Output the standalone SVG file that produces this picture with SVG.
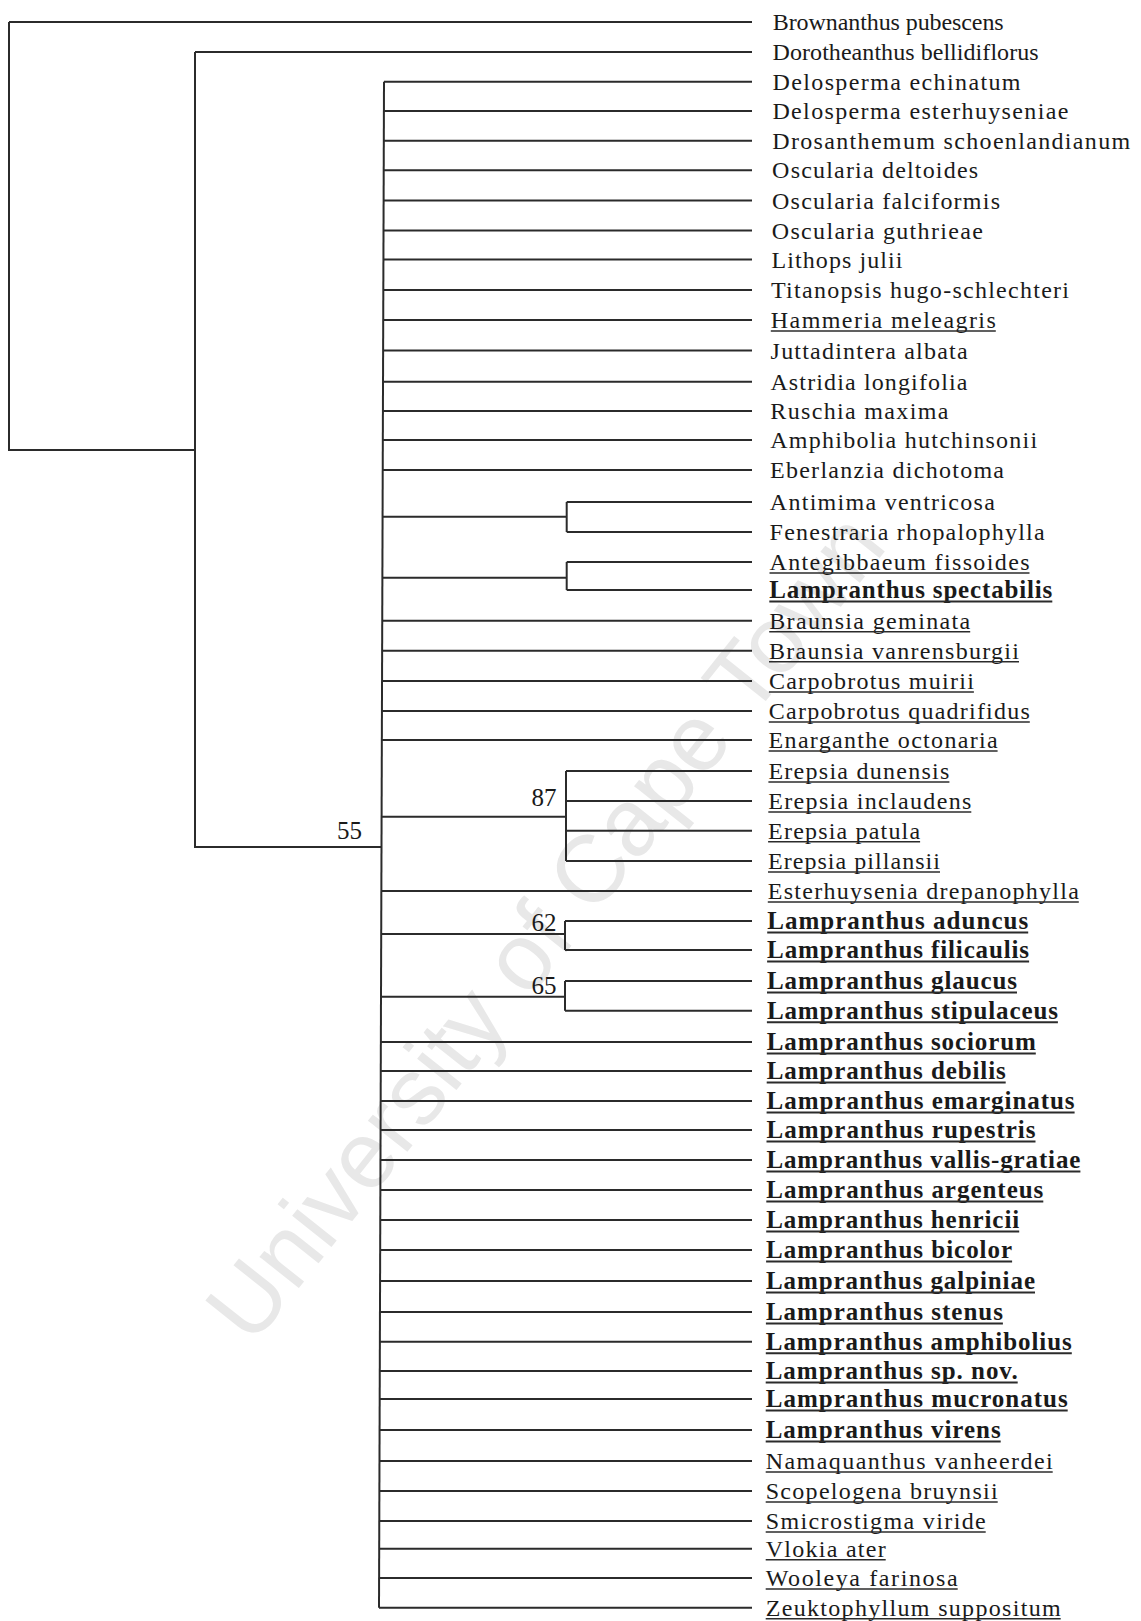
<svg xmlns="http://www.w3.org/2000/svg" width="1141" height="1621" viewBox="0 0 1141 1621">
<style>
.wm{font-family:"Liberation Sans",Arial,sans-serif;font-size:95px;fill:#e8e8e8}
.c path{fill:none;stroke:#2b2b2b;stroke-width:2}
.t{font-family:"Liberation Serif","Times New Roman",serif;font-size:24px;fill:#1a1a1a}
.b{font-weight:bold;font-size:25px}
.n{font-family:"Liberation Serif","Times New Roman",serif;font-size:25px;fill:#1a1a1a}
.ul{stroke:#2b2b2b;stroke-width:1.5}
.ub{stroke:#2b2b2b;stroke-width:2}
</style>
<rect width="1141" height="1621" fill="#fff"/>
<text class="wm" x="252" y="1347" transform="rotate(-51.5 252 1347)">University of Cape Town</text>
<g id="connectors" class="c">
<path d="M9,22 V450 H195 M9,22 H752"/>
<path d="M195,52 V847 H381.5 M195,52 H752"/>
<path d="M384,81.7 L379,1607.7"/>
<path d="M384,81.7 H752 M383.9,111 H752 M383.8,140.7 H752 M383.7,170.3 H752 M383.6,200.5 H752 M383.5,230.5 H752 M383.4,259.5 H752 M383.3,290 H752 M383.2,320 H752 M383.1,350.5 H752 M383,381.7 H752 M382.9,411 H752 M382.8,440 H752 M382.7,470 H752"/>
<path d="M382.6,516.7 H566.7 M566.7,502 V532 M566.7,502 H752 M566.7,532 H752"/>
<path d="M382.4,577.7 H566.7 M566.7,562 V590 M566.7,562 H752 M566.7,590 H752"/>
<path d="M382.2,620.7 H752 M382.1,650.7 H752 M382,681 H752 M381.9,711 H752 M381.8,740 H752"/>
<path d="M381.6,816.7 H566 M566,771 V861 M566,771 H752 M566,801 H752 M566,830.7 H752 M566,861 H752"/>
<path d="M381.3,891 H752"/>
<path d="M381.2,934 H565 M565,921 V950 M565,921 H752 M565,950 H752"/>
<path d="M381,996.7 H565 M565,981 V1010.7 M565,981 H752 M565,1010.7 H752"/>
<path d="M380.9,1042 H752 M380.8,1071 H752 M380.7,1101 H752 M380.6,1130 H752 M380.5,1160 H752 M380.4,1190 H752 M380.3,1220 H752 M380.2,1250 H752 M380.1,1281 H752 M380,1312 H752 M379.9,1341.7 H752 M379.8,1371 H752 M379.7,1399 H752 M379.6,1430 H752 M379.5,1461 H752 M379.4,1491 H752 M379.3,1521 H752 M379.2,1548.7 H752 M379.1,1578 H752 M379,1607.7 H752"/>
</g>
<g id="support-labels">
<g id="bs55"><text class="n" x="337" y="839">55</text></g>
<g id="bs87"><text class="n" x="531.5" y="805.5">87</text></g>
<g id="bs62"><text class="n" x="531.5" y="931">62</text></g>
<g id="bs65"><text class="n" x="531.5" y="994.3">65</text></g>
</g>
<g id="leaves">
<g id="l01"><text class="t" x="772.7" y="30" textLength="231" lengthAdjust="spacing">Brownanthus pubescens</text></g>
<g id="l02"><text class="t" x="772.6" y="60" textLength="266" lengthAdjust="spacing">Dorotheanthus bellidiflorus</text></g>
<g id="l03"><text class="t" x="772.5" y="89.7" textLength="248" lengthAdjust="spacing">Delosperma echinatum</text></g>
<g id="l04"><text class="t" x="772.4" y="119" textLength="296" lengthAdjust="spacing">Delosperma esterhuyseniae</text></g>
<g id="l05"><text class="t" x="772.2" y="148.7" textLength="358" lengthAdjust="spacing">Drosanthemum schoenlandianum</text></g>
<g id="l06"><text class="t" x="772.1" y="178.3" textLength="206" lengthAdjust="spacing">Oscularia deltoides</text></g>
<g id="l07"><text class="t" x="772" y="208.5" textLength="228" lengthAdjust="spacing">Oscularia falciformis</text></g>
<g id="l08"><text class="t" x="771.8" y="238.5" textLength="211" lengthAdjust="spacing">Oscularia guthrieae</text></g>
<g id="l09"><text class="t" x="771.5" y="267.5" textLength="131" lengthAdjust="spacing">Lithops julii</text></g>
<g id="l10"><text class="t" x="771" y="298" textLength="298" lengthAdjust="spacing">Titanopsis hugo-schlechteri</text></g>
<g id="l11"><text class="t" x="770.8" y="328" textLength="225" lengthAdjust="spacing">Hammeria meleagris</text><line class="ul" x1="770.8" y1="331" x2="995.8" y2="331"/></g>
<g id="l12"><text class="t" x="770.6" y="358.5" textLength="197" lengthAdjust="spacing">Juttadintera albata</text></g>
<g id="l13"><text class="t" x="770.4" y="389.7" textLength="197" lengthAdjust="spacing">Astridia longifolia</text></g>
<g id="l14"><text class="t" x="770.3" y="419" textLength="178" lengthAdjust="spacing">Ruschia maxima</text></g>
<g id="l15"><text class="t" x="770.2" y="448" textLength="267" lengthAdjust="spacing">Amphibolia hutchinsonii</text></g>
<g id="l16"><text class="t" x="770" y="478" textLength="234" lengthAdjust="spacing">Eberlanzia dichotoma</text></g>
<g id="l17"><text class="t" x="769.8" y="510" textLength="225" lengthAdjust="spacing">Antimima ventricosa</text></g>
<g id="l18"><text class="t" x="769.6" y="540" textLength="275" lengthAdjust="spacing">Fenestraria rhopalophylla</text></g>
<g id="l19"><text class="t" x="769.5" y="570" textLength="260" lengthAdjust="spacing">Antegibbaeum fissoides</text><line class="ul" x1="769.5" y1="573" x2="1029.5" y2="573"/></g>
<g id="l20"><text class="t b" x="769.3" y="598" textLength="283" lengthAdjust="spacing">Lampranthus spectabilis</text><line class="ub" x1="769.3" y1="601.5" x2="1052.3" y2="601.5"/></g>
<g id="l21"><text class="t" x="769.2" y="628.7" textLength="201" lengthAdjust="spacing">Braunsia geminata</text><line class="ul" x1="769.2" y1="631.7" x2="970.2" y2="631.7"/></g>
<g id="l22"><text class="t" x="769" y="658.7" textLength="250" lengthAdjust="spacing">Braunsia vanrensburgii</text><line class="ul" x1="769" y1="661.7" x2="1019" y2="661.7"/></g>
<g id="l23"><text class="t" x="768.9" y="689" textLength="205" lengthAdjust="spacing">Carpobrotus muirii</text><line class="ul" x1="768.9" y1="692" x2="973.9" y2="692"/></g>
<g id="l24"><text class="t" x="768.8" y="719" textLength="261" lengthAdjust="spacing">Carpobrotus quadrifidus</text><line class="ul" x1="768.8" y1="722" x2="1029.8" y2="722"/></g>
<g id="l25"><text class="t" x="768.6" y="748" textLength="229" lengthAdjust="spacing">Enarganthe octonaria</text><line class="ul" x1="768.6" y1="751" x2="997.6" y2="751"/></g>
<g id="l26"><text class="t" x="768.4" y="779" textLength="181" lengthAdjust="spacing">Erepsia dunensis</text><line class="ul" x1="768.4" y1="782" x2="949.4" y2="782"/></g>
<g id="l27"><text class="t" x="768.3" y="809" textLength="203" lengthAdjust="spacing">Erepsia inclaudens</text><line class="ul" x1="768.3" y1="812" x2="971.3" y2="812"/></g>
<g id="l28"><text class="t" x="768.1" y="838.7" textLength="152" lengthAdjust="spacing">Erepsia patula</text><line class="ul" x1="768.1" y1="841.7" x2="920.1" y2="841.7"/></g>
<g id="l29"><text class="t" x="768" y="869" textLength="172" lengthAdjust="spacing">Erepsia pillansii</text><line class="ul" x1="768" y1="872" x2="940" y2="872"/></g>
<g id="l30"><text class="t" x="767.8" y="899" textLength="311" lengthAdjust="spacing">Esterhuysenia drepanophylla</text><line class="ul" x1="767.8" y1="902" x2="1078.8" y2="902"/></g>
<g id="l31"><text class="t b" x="767.2" y="929" textLength="261" lengthAdjust="spacing">Lampranthus aduncus</text><line class="ub" x1="767.2" y1="932.5" x2="1028.2" y2="932.5"/></g>
<g id="l32"><text class="t b" x="767.1" y="958" textLength="262" lengthAdjust="spacing">Lampranthus filicaulis</text><line class="ub" x1="767.1" y1="961.5" x2="1029.1" y2="961.5"/></g>
<g id="l33"><text class="t b" x="767" y="989" textLength="250" lengthAdjust="spacing">Lampranthus glaucus</text><line class="ub" x1="767" y1="992.5" x2="1017" y2="992.5"/></g>
<g id="l34"><text class="t b" x="766.9" y="1018.7" textLength="291" lengthAdjust="spacing">Lampranthus stipulaceus</text><line class="ub" x1="766.9" y1="1022.2" x2="1057.9" y2="1022.2"/></g>
<g id="l35"><text class="t b" x="766.8" y="1050" textLength="269" lengthAdjust="spacing">Lampranthus sociorum</text><line class="ub" x1="766.8" y1="1053.5" x2="1035.8" y2="1053.5"/></g>
<g id="l36"><text class="t b" x="766.7" y="1079" textLength="239" lengthAdjust="spacing">Lampranthus debilis</text><line class="ub" x1="766.7" y1="1082.5" x2="1005.7" y2="1082.5"/></g>
<g id="l37"><text class="t b" x="766.6" y="1109" textLength="308" lengthAdjust="spacing">Lampranthus emarginatus</text><line class="ub" x1="766.6" y1="1112.5" x2="1074.6" y2="1112.5"/></g>
<g id="l38"><text class="t b" x="766.5" y="1138" textLength="269" lengthAdjust="spacing">Lampranthus rupestris</text><line class="ub" x1="766.5" y1="1141.5" x2="1035.5" y2="1141.5"/></g>
<g id="l39"><text class="t b" x="766.4" y="1168" textLength="314" lengthAdjust="spacing">Lampranthus vallis-gratiae</text><line class="ub" x1="766.4" y1="1171.5" x2="1080.4" y2="1171.5"/></g>
<g id="l40"><text class="t b" x="766.3" y="1198" textLength="277" lengthAdjust="spacing">Lampranthus argenteus</text><line class="ub" x1="766.3" y1="1201.5" x2="1043.3" y2="1201.5"/></g>
<g id="l41"><text class="t b" x="766.2" y="1228" textLength="253" lengthAdjust="spacing">Lampranthus henricii</text><line class="ub" x1="766.2" y1="1231.5" x2="1019.2" y2="1231.5"/></g>
<g id="l42"><text class="t b" x="766.1" y="1258" textLength="246" lengthAdjust="spacing">Lampranthus bicolor</text><line class="ub" x1="766.1" y1="1261.5" x2="1012.1" y2="1261.5"/></g>
<g id="l43"><text class="t b" x="766" y="1289" textLength="269" lengthAdjust="spacing">Lampranthus galpiniae</text><line class="ub" x1="766" y1="1292.5" x2="1035" y2="1292.5"/></g>
<g id="l44"><text class="t b" x="765.9" y="1320" textLength="237" lengthAdjust="spacing">Lampranthus stenus</text><line class="ub" x1="765.9" y1="1323.5" x2="1002.9" y2="1323.5"/></g>
<g id="l45"><text class="t b" x="765.8" y="1349.7" textLength="306" lengthAdjust="spacing">Lampranthus amphibolius</text><line class="ub" x1="765.8" y1="1353.2" x2="1071.8" y2="1353.2"/></g>
<g id="l46"><text class="t b" x="765.7" y="1379" textLength="252" lengthAdjust="spacing">Lampranthus sp. nov.</text><line class="ub" x1="765.7" y1="1382.5" x2="1017.7" y2="1382.5"/></g>
<g id="l47"><text class="t b" x="765.7" y="1407" textLength="302" lengthAdjust="spacing">Lampranthus mucronatus</text><line class="ub" x1="765.7" y1="1410.5" x2="1067.7" y2="1410.5"/></g>
<g id="l48"><text class="t b" x="765.7" y="1438" textLength="235" lengthAdjust="spacing">Lampranthus virens</text><line class="ub" x1="765.7" y1="1441.5" x2="1000.7" y2="1441.5"/></g>
<g id="l49"><text class="t" x="765.7" y="1469" textLength="287" lengthAdjust="spacing">Namaquanthus vanheerdei</text><line class="ul" x1="765.7" y1="1472" x2="1052.7" y2="1472"/></g>
<g id="l50"><text class="t" x="765.7" y="1499" textLength="232" lengthAdjust="spacing">Scopelogena bruynsii</text><line class="ul" x1="765.7" y1="1502" x2="997.7" y2="1502"/></g>
<g id="l51"><text class="t" x="765.7" y="1529" textLength="220" lengthAdjust="spacing">Smicrostigma viride</text><line class="ul" x1="765.7" y1="1532" x2="985.7" y2="1532"/></g>
<g id="l52"><text class="t" x="765.7" y="1556.7" textLength="120" lengthAdjust="spacing">Vlokia ater</text><line class="ul" x1="765.7" y1="1559.7" x2="885.7" y2="1559.7"/></g>
<g id="l53"><text class="t" x="765.7" y="1586" textLength="192" lengthAdjust="spacing">Wooleya farinosa</text><line class="ul" x1="765.7" y1="1589" x2="957.7" y2="1589"/></g>
<g id="l54"><text class="t" x="765.7" y="1615.7" textLength="295" lengthAdjust="spacing">Zeuktophyllum suppositum</text><line class="ul" x1="765.7" y1="1618.7" x2="1060.7" y2="1618.7"/></g>
</g>
</svg>
